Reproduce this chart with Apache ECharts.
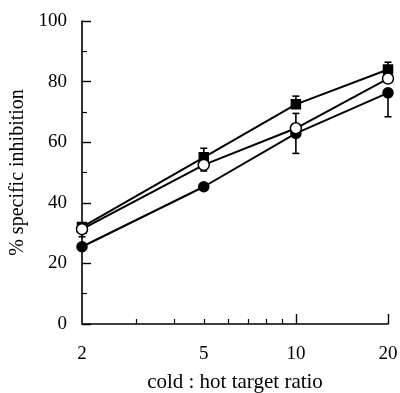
<!DOCTYPE html>
<html>
<head>
<meta charset="utf-8">
<script src="https://cdn.jsdelivr.net/npm/echarts@6/dist/echarts.min.js"></script>
<style>
  html, body { margin: 0; padding: 0; background: #fff; }
  #chart { width: 400px; height: 393px; }
</style>
</head>
<body>
<div id="chart"></div>
<script>
// cold : hot target ratio (log axis)
const ratios = [2, 5, 10, 20]
const tickLabels = [2, 5, 10, 20]
const majorTicks = [10, 20]
const minorTicks = [3, 4, 5, 6, 7, 8, 9]

// % specific inhibition
const squareValues = [32, 55, 72.5, 84]
const squareLow = [32, 55, 72.5, 84]
const squareHigh = [32, 58, 75.2, 86.4]

const openValues = [31.3, 52.5, 64.6, 81]
const openLow = [28.8, 50.5, 64.6, 81]
const openHigh = [31.3, 52.5, 69.5, 81]

const filledValues = [25.5, 45.3, 62.9, 76.3]
const filledLow = [25.5, 45.3, 56.3, 68.4]
const filledHigh = [25.5, 45.3, 62.9, 76.3]

const lg = (v) => Math.log10(v)
const font = "'Liberation Serif', 'DejaVu Serif', serif"
const ink = '#000'

const toPoints = (vals) => ratios.map((r, i) => [lg(r), vals[i]])
const toBars = (low, high) => ratios.map((r, i) => [lg(r), low[i], high[i]])

const errorBars = (name, low, high) => ({
  name: name,
  type: 'custom',
  xAxisIndex: 0,
  z: 1,
  silent: true,
  data: toBars(low, high),
  renderItem: (params, api) => {
    const x = api.value(0)
    const lo = api.coord([x, api.value(1)])
    const hi = api.coord([x, api.value(2)])
    const cap = 3.5
    if (Math.abs(lo[1] - hi[1]) < 0.5) return { type: 'group', children: [] }
    const style = { stroke: ink, lineWidth: 1.6 }
    return {
      type: 'group',
      children: [
        { type: 'line', shape: { x1: lo[0], y1: lo[1], x2: hi[0], y2: hi[1] }, style },
        { type: 'line', shape: { x1: lo[0] - cap, y1: lo[1], x2: lo[0] + cap, y2: lo[1] }, style },
        { type: 'line', shape: { x1: hi[0] - cap, y1: hi[1], x2: hi[0] + cap, y2: hi[1] }, style },
      ],
    }
  },
})

const lineSeries = (name, vals, symbol, size, fill, z) => ({
  name: name,
  type: 'line',
  xAxisIndex: 0,
  z: z,
  data: toPoints(vals),
  symbol: symbol,
  symbolSize: size,
  showAllSymbol: true,
  lineStyle: { color: ink, width: 2 },
  itemStyle: { color: fill, borderColor: ink, borderWidth: 1.5 },
  emphasis: { disabled: true },
})

const chart = echarts.init(document.getElementById('chart'), null, { renderer: 'canvas' })

const option = {
  backgroundColor: '#ffffff',
  animation: false,
  grid: { left: 82, right: 12, top: 21, bottom: 69, containLabel: false, outerBoundsMode: 'none' },
  xAxis: [
    {
      type: 'value',
      min: lg(2),
      max: lg(20),
      name: 'cold : hot target ratio',
      nameLocation: 'middle',
      nameGap: 48,
      nameTextStyle: { fontFamily: font, fontSize: 21, color: ink },
      axisLine: { lineStyle: { color: ink, width: 1.6 } },
      axisTick: {
        inside: true,
        length: 10,
        lineStyle: { color: ink, width: 1.4 },
        customValues: majorTicks.map(lg),
      },
      axisLabel: {
        fontFamily: font,
        fontSize: 19,
        color: ink,
        margin: 21,
        customValues: tickLabels.map(lg),
        formatter: (v) => String(Math.round(Math.pow(10, v))),
      },
      splitLine: { show: false },
    },
    {
      type: 'value',
      position: 'bottom',
      min: lg(2),
      max: lg(20),
      axisLine: { show: false },
      axisTick: {
        inside: true,
        length: 5,
        lineStyle: { color: ink, width: 1.2 },
        customValues: minorTicks.map(lg),
      },
      axisLabel: { show: false },
      splitLine: { show: false },
    },
  ],
  yAxis: {
    type: 'value',
    min: 0,
    max: 100,
    interval: 20,
    name: '% specific inhibition',
    nameLocation: 'middle',
    nameGap: 50,
    nameTextStyle: { fontFamily: font, fontSize: 20, color: ink },
    axisLine: { show: true, lineStyle: { color: ink, width: 1.6 } },
    axisTick: { show: true, inside: true, length: 9, lineStyle: { color: ink, width: 1.4 } },
    minorTick: { show: true, splitNumber: 2, length: 5, lineStyle: { color: ink, width: 1.2 } },
    axisLabel: { fontFamily: font, fontSize: 19, color: ink, margin: 15 },
    splitLine: { show: false },
  },
  series: [
    errorBars('square err', squareLow, squareHigh),
    errorBars('open err', openLow, openHigh),
    errorBars('filled err', filledLow, filledHigh),
    lineSeries('filled circle', filledValues, 'circle', 10, ink, 3),
    lineSeries('filled square', squareValues, 'rect', 9, ink, 4),
    lineSeries('open circle', openValues, 'circle', 11, '#ffffff', 5),
  ],
}

chart.setOption(option)
</script>
</body>
</html>
